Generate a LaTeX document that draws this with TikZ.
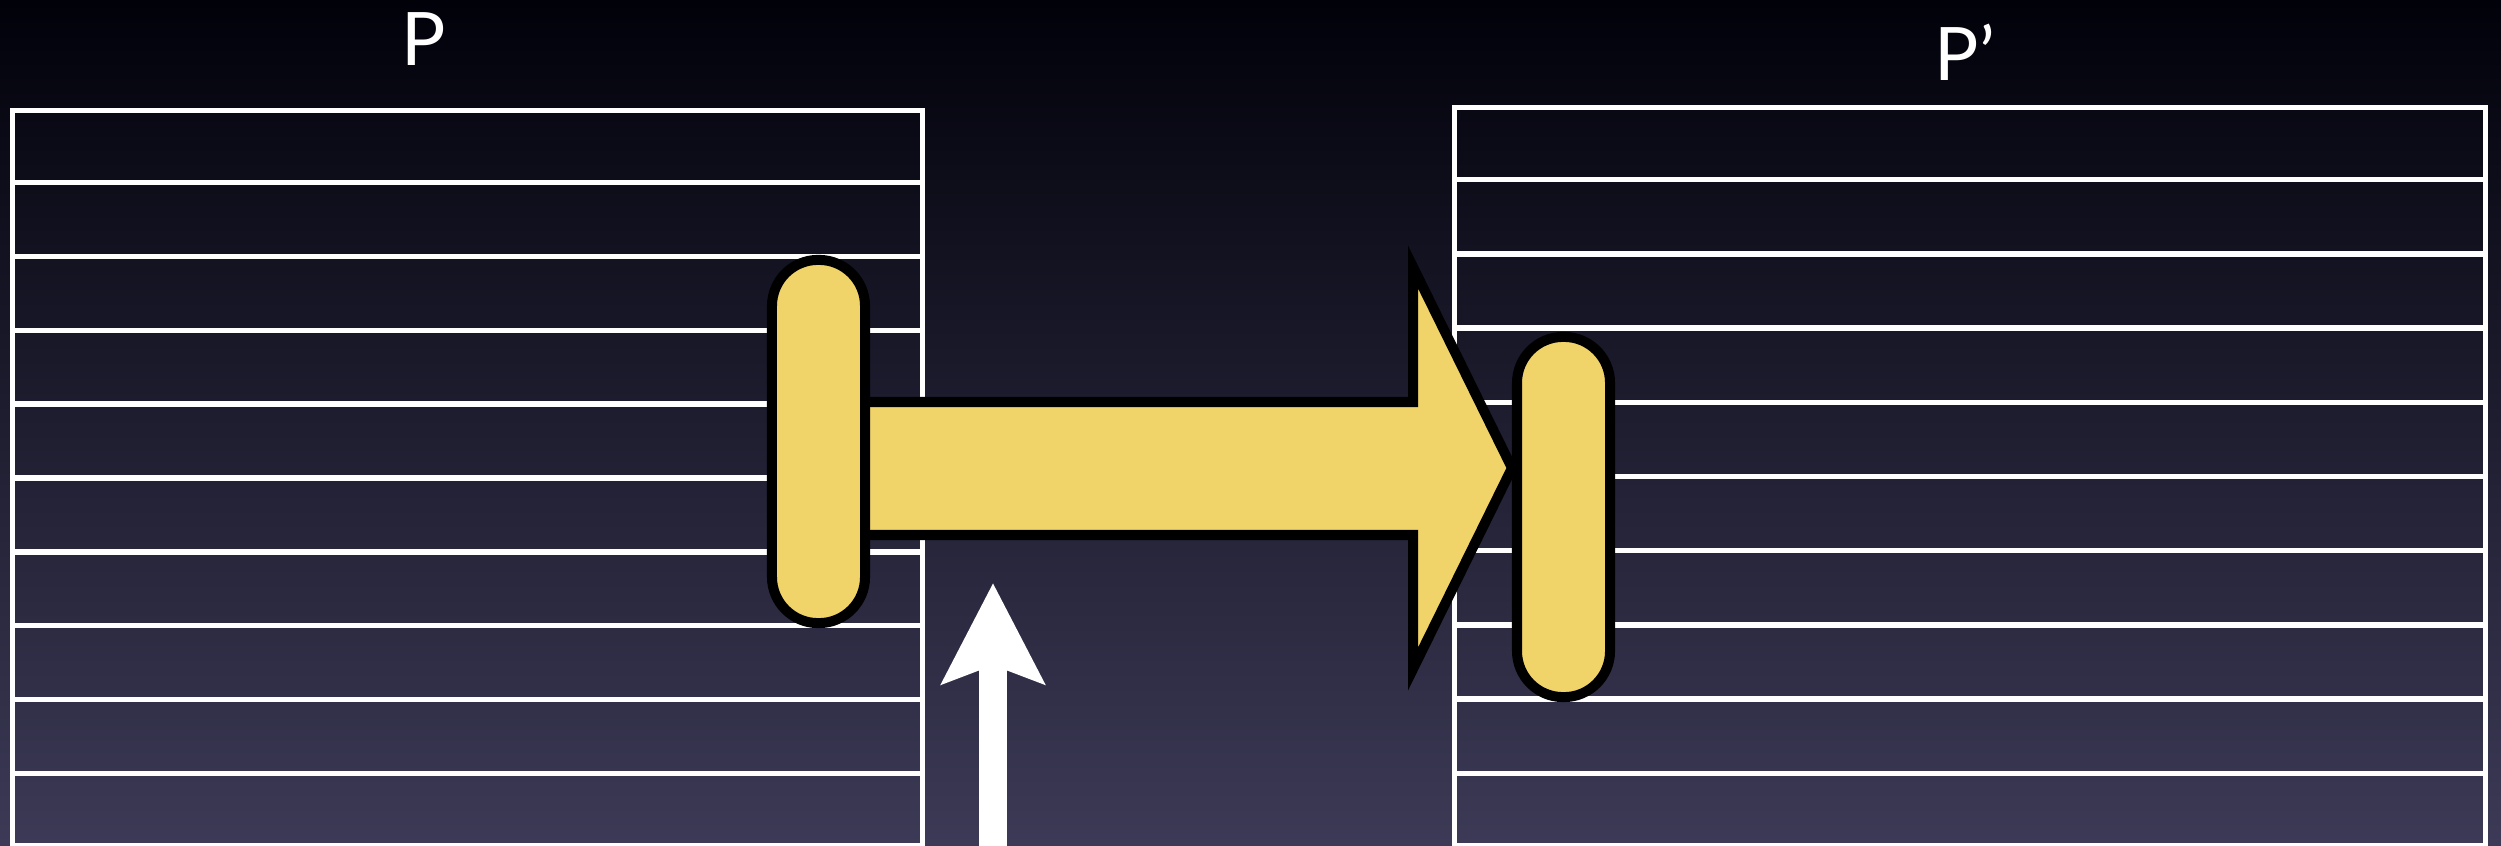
\documentclass[tikz,border=0pt]{standalone}
\usepackage{fontspec}
\setmainfont{Lato}
\usetikzlibrary{positioning, arrows.meta, calc}
\pgfdeclarelayer{back}
\pgfdeclarelayer{front}
\pgfsetlayers{back,main,front}
\definecolor{bgtop}{RGB}{1,1,10}
\definecolor{bgbot}{RGB}{60,58,86}
\definecolor{pegyellow}{RGB}{240,212,105}

\begin{document}
\begin{tikzpicture}[
  x=0.01cm, y=-0.01cm,
  font=\fontsize{21}{24}\selectfont,
  stack/.style={draw=white, line width=1.3pt, inner sep=0pt},
  rowline/.style={white, line width=1.5pt},
  peg/.style={draw=black, fill=pegyellow, line width=0.1cm, rounded corners=0.46cm,
              minimum width=0.93cm, inner sep=0pt},
  move/.style={draw=black, fill=pegyellow, line width=0.1cm, line join=miter},
  push/.style={white, line width=0.28cm, -{Stealth[length=1cm, width=1.01cm, inset=0.18cm]}},
  lbl/.style={text=white, anchor=base, inner sep=0pt}
]
\useasboundingbox (0,0) rectangle (2501,846);
\begin{pgfonlayer}{back}
  \shade[top color=bgtop, bottom color=bgbot] (0,0) rectangle (2501,846);
\end{pgfonlayer}

% the two stacks
\node[stack, minimum width=9.09cm, minimum height=7.34cm] (lstack) at (467.5,478) {};
\node[stack, minimum width=10.30cm, minimum height=7.37cm] (rstack) at (1970,476.5) {};
\foreach \s in {lstack, rstack}
  \foreach \i in {1,...,9}
    \draw[rowline] ($(\s.north west)!\i/10!(\s.south west)$) -- ($(\s.north east)!\i/10!(\s.south east)$);

\node[lbl] (ltitle) at (424,66) {P};
\node[lbl] (rtitle) at (1965,81) {P’};

% pegs
\begin{pgfonlayer}{front}
  \node[peg, minimum height=3.63cm] (lpeg) at (818.5,441.5) {};
  \node[peg, minimum height=3.60cm] (rpeg) at (1563.5,517) {};
\end{pgfonlayer}

% the move
\draw[move] ($(lpeg.center)+(0,-39.5)$) -- (1413,402) -- (1413,267) -- ($(rpeg.west)+(0,-49)$)
  -- (1413,669) -- (1413,535) -- ($(lpeg.center)+(0,93.5)$) -- cycle;

% the pointer
\coordinate (pbase) at (993,846);
\coordinate (ptip) at (993,583);
\draw[push] (pbase) -- (ptip);
\end{tikzpicture}
\end{document}
